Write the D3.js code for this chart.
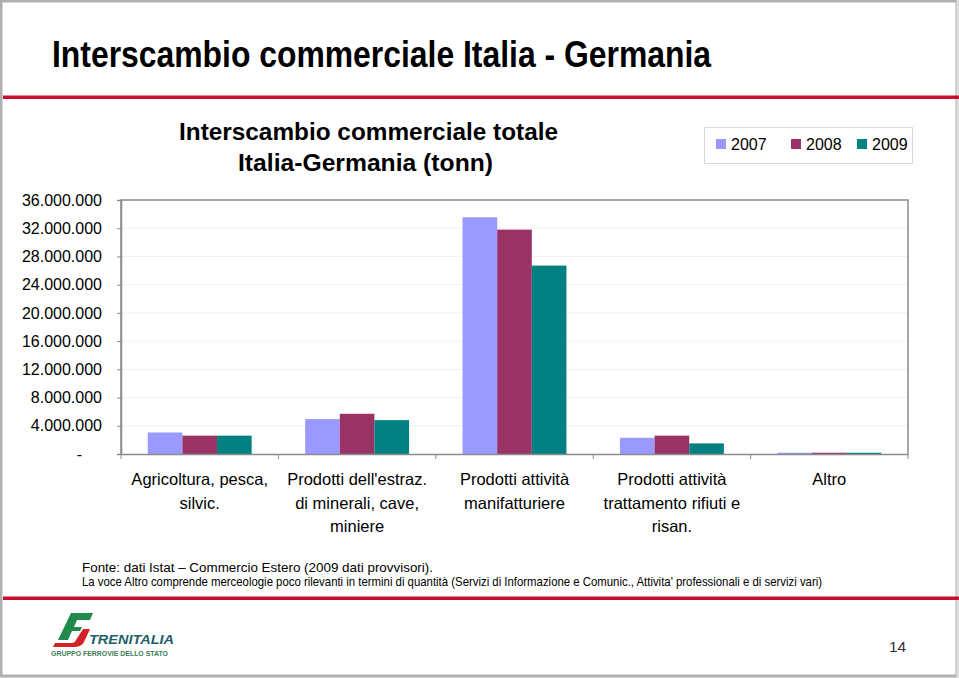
<!DOCTYPE html>
<html><head><meta charset="utf-8">
<script src="https://cdn.jsdelivr.net/npm/d3@7"></script>
<style>
html,body{margin:0;padding:0;background:#fff;}
svg{display:block;font-family:Arial,"Liberation Sans",sans-serif;}
</style></head>
<body>
<svg id="c" width="959" height="678"></svg>
<script>
// ---- data ----
const categories = [
  "Agricoltura, pesca,\nsilvic.",
  "Prodotti dell'estraz.\ndi minerali, cave,\nminiere",
  "Prodotti attività\nmanifatturiere",
  "Prodotti attività\ntrattamento rifiuti e\nrisan.",
  "Altro"
];
const seriesNames = ["2007", "2008", "2009"];
const values2007 = [3050000, 4950000, 33550000, 2300000, 180000];
const values2008 = [2600000, 5700000, 31800000, 2600000, 180000];
const values2009 = [2600000, 4800000, 26700000, 1500000, 180000];
const yTicks = [0, 4000000, 8000000, 12000000, 16000000, 20000000, 24000000, 28000000, 32000000, 36000000];
const colors = ["#9999ff", "#993366", "#008080"];

const seriesValues = [values2007, values2008, values2009];

const svg = d3.select("#c");

// page frame
svg.append("rect").attr("x",1).attr("y",1).attr("width",956).attr("height",675)
  .attr("fill","none").attr("stroke","#b0b0b0").attr("stroke-width",3);
svg.append("line").attr("x1",957.5).attr("x2",957.5).attr("y1",0).attr("y2",678).attr("stroke","#e0e0e0").attr("stroke-width",2);

// red rules
svg.append("rect").attr("x",3).attr("y",95.5).attr("width",956).attr("height",3.5).attr("fill","#c8102e");
svg.append("rect").attr("x",3).attr("y",596.5).attr("width",956).attr("height",3.5).attr("fill","#c8102e");

// slide title
svg.append("text").attr("x",52).attr("y",67)
  .attr("font-family","'Liberation Sans Narrow','Arial Narrow',Arial,sans-serif")
  .attr("font-weight","bold").attr("font-size",36)
  .attr("textLength",659).attr("lengthAdjust","spacingAndGlyphs")
  .text("Interscambio commerciale Italia - Germania");

// chart title
svg.append("text").attr("x",179).attr("y",140).attr("font-weight","bold").attr("font-size",23)
  .attr("textLength",379).attr("lengthAdjust","spacingAndGlyphs")
  .text("Interscambio commerciale totale");
svg.append("text").attr("x",238).attr("y",171).attr("font-weight","bold").attr("font-size",23)
  .attr("textLength",255).attr("lengthAdjust","spacingAndGlyphs")
  .text("Italia-Germania (tonn)");

// plot geometry
const L = 121, R = 908, T = 200, B = 454;
const y = d3.scaleLinear().domain([0, 36000000]).range([B, T]);
const x0 = d3.scaleBand().domain(categories).range([L, R]).paddingInner(0.34).paddingOuter(0.17);
const x1 = d3.scaleBand().domain(seriesNames).range([0, x0.bandwidth()]);

// grid
svg.append("g").selectAll("line").data(yTicks.slice(1, -1)).join("line")
  .attr("x1",L).attr("x2",R).attr("y1",d=>y(d)).attr("y2",d=>y(d))
  .attr("stroke","#f0f0f0").attr("stroke-width",1);

// bars
const groups = svg.append("g").selectAll("g").data(categories).join("g")
  .attr("transform", d => `translate(${x0(d)},0)`);
groups.selectAll("rect").data((d,i) => seriesNames.map((s,j)=>({s, v: seriesValues[j][i], j})))
  .join("rect")
  .attr("x", d => x1(d.s)).attr("width", x1.bandwidth())
  .attr("y", d => y(d.v)).attr("height", d => B - y(d.v))
  .attr("fill", d => colors[d.j]);

// plot box
svg.append("path").attr("d",`M${L},${B}V${T}H${R}V${B}`).attr("fill","none")
  .attr("stroke","#8c8c8c").attr("stroke-width",1.5);

// y axis
const itFmt = d3.formatLocale({decimal:",", thousands:".", grouping:[3], currency:["€",""]}).format(",d");
const yAxis = d3.axisLeft(y).tickValues(yTicks).tickSize(4).tickPadding(15)
  .tickFormat(d => d === 0 ? "-" : itFmt(d));
const ya = svg.append("g").attr("transform",`translate(${L},0)`).call(yAxis);
ya.select(".domain").attr("stroke","#8c8c8c").attr("stroke-width",1.5);
ya.selectAll(".tick line").attr("stroke","#8c8c8c");
ya.selectAll(".tick text").attr("font-size",16).attr("fill","#000")
  .attr("font-family","Arial,'Liberation Sans',sans-serif")
  .attr("dx", d => d === 0 ? -20 : 0);

// x axis
const xa = d3.axisBottom(x0).tickSize(0).tickFormat("");
const xg = svg.append("g").attr("transform",`translate(0,${B})`).call(xa);
xg.select(".domain").attr("stroke","#8c8c8c").attr("stroke-width",1.5);
const bounds = d3.range(categories.length + 1).map(i => L + i * x0.step());
svg.append("g").selectAll("line").data(bounds).join("line")
  .attr("x1",d=>d).attr("x2",d=>d).attr("y1",B).attr("y2",B+5)
  .attr("stroke","#8c8c8c").attr("stroke-width",1);

// category labels
const lab = svg.append("g").selectAll("text").data(categories).join("text")
  .attr("text-anchor","middle").attr("font-size",16.5).attr("fill","#000")
  .attr("transform", d => `translate(${x0(d) + x0.bandwidth()/2},${485})`);
lab.selectAll("tspan").data(d => d.split("\n")).join("tspan")
  .attr("x",0).attr("dy",(d,i)=> i===0 ? 0 : 23.5).text(d=>d);

// legend
svg.append("rect").attr("x",704.5).attr("y",127.5).attr("width",208).attr("height",36)
  .attr("fill","#fff").attr("stroke","#d9d9d9").attr("stroke-width",1);
const legX = [716, 791, 857];
const leg = svg.append("g").selectAll("g").data(seriesNames).join("g")
  .attr("transform",(d,i)=>`translate(${legX[i]},139)`);
leg.append("rect").attr("width",10).attr("height",10).attr("fill",(d,i)=>colors[i]);
leg.append("text").attr("x",15).attr("y",11).attr("font-size",16).attr("fill","#000").text(d=>d);

// footnotes
const narrow = "'Liberation Sans Narrow','Arial Narrow',Arial,sans-serif";
svg.append("text").attr("x",82).attr("y",572).attr("font-family",narrow).attr("font-size",13)
  .attr("textLength",351).attr("lengthAdjust","spacingAndGlyphs")
  .text("Fonte: dati Istat – Commercio Estero (2009 dati provvisori).");
svg.append("text").attr("x",82).attr("y",586).attr("font-family",narrow).attr("font-size",13)
  .attr("textLength",740).attr("lengthAdjust","spacingAndGlyphs")
  .text("La voce Altro comprende merceologie poco rilevanti in termini di quantità (Servizi di Informazione e Comunic., Attivita' professionali e di servizi vari)");

// logo
const logo = svg.append("g");
logo.append("path").attr("fill","#1f8a4c")
  .attr("d","M71,613 L93,613 L90,620 L77,620 L74,627 L82,627 L80,631 L72,631 L68,640 L58,640 Z");
logo.append("path").attr("fill","#d2232a")
  .attr("d","M83,629 L90,629 L84,642 C82,646 78,647 73,647 L53,647 L55,643 L71,643 C74,643 75,642 76,640 Z");
logo.append("text").attr("x",89).attr("y",644).attr("font-style","italic").attr("font-weight","bold")
  .attr("font-size",12).attr("fill","#1e5f6b").attr("textLength",85).attr("lengthAdjust","spacingAndGlyphs")
  .text("TRENITALIA");
logo.append("text").attr("x",51).attr("y",656).attr("font-weight","bold")
  .attr("font-size",7.5).attr("fill","#3a7d55").attr("textLength",117).attr("lengthAdjust","spacingAndGlyphs")
  .text("GRUPPO FERROVIE DELLO STATO");

// page number
svg.append("text").attr("x",889).attr("y",652).attr("font-size",15.5).attr("fill","#333").text("14");
</script>
</body></html>
